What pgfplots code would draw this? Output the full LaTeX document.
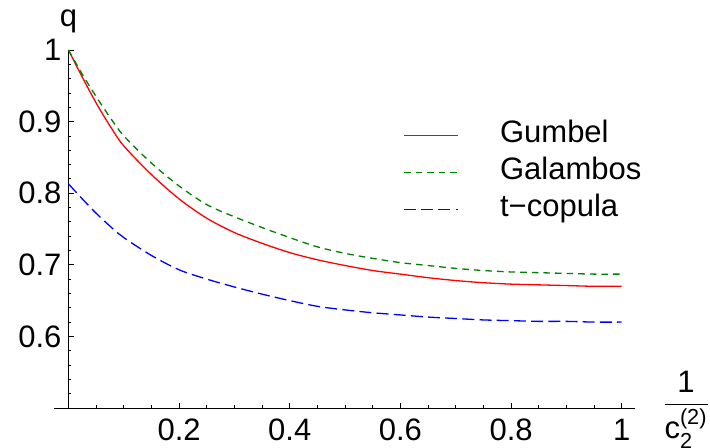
\documentclass[border=0pt]{standalone}
\usepackage{fontspec}
\setmainfont{Liberation Sans}
\usepackage{amsmath}
\usepackage{pgfplots}
\pgfplotsset{compat=1.18}
\definecolor{galgreen}{RGB}{0,128,0}

\begin{document}
\begin{tikzpicture}[font=\fontsize{15.5}{18}\selectfont]
\begin{axis}[
    scale only axis,
    width=276.6pt, height=179pt,
    xmin=0, xmax=1, ymin=0.5, ymax=1,
    axis lines=left,
    x axis line style={-, shorten <=-7.25pt, shorten >=-6.6pt},
    y axis line style={-},
    axis line style={line width=0.5pt},
    tick align=inside,
    major tick length=2.6pt, minor tick length=1.4pt,
    every tick/.style={black, line width=0.4pt},
    xtick={0.2,0.4,0.6,0.8,1},
    minor xtick={0.05,0.1,0.15,0.25,0.3,0.35,0.45,0.5,0.55,0.65,0.7,0.75,0.85,0.9,0.95},
    ytick={0.6,0.7,0.8,0.9,1},
    minor ytick={0.52,0.54,0.56,0.58,0.62,0.64,0.66,0.68,0.72,0.74,0.76,0.78,0.82,0.84,0.86,0.88,0.92,0.94,0.96,0.98},
    /pgf/number format/assume math mode=true,
    tick label style={font=\fontsize{15.5}{18}\selectfont},
    yticklabel style={xshift=0pt},
    xticklabel style={yshift=-2pt},
    every axis y label/.style={at={(axis description cs:0,1)}, anchor=base, yshift=11.5pt},
    every axis x label/.style={at={(axis description cs:1,0)}, anchor=west, inner sep=0pt, xshift=20pt, yshift=-1pt},
    ylabel={q},
    xlabel={$\dfrac{\text{1}}{\text{c}_{\text{2}}^{\text{(2)}}}$},
    clip=false,
    legend style={draw=none, fill=none, inner sep=0pt, row sep=1.5pt,
        at={(rel axis cs:0.6047,0.810)}, anchor=north west,
        nodes={inner sep=2pt, text height=10pt, text depth=3pt},
        font=\fontsize{15.5}{18}\selectfont},
    legend cell align=left,
    legend image code/.code={\draw[#1] (0pt,0pt) -- (27pt,0pt); \path[draw=none] (0pt,0pt) -- (46pt,0pt);},
]
\addplot[draw=red, line width=0.65pt, smooth] coordinates {
    (0,1.000) (0.025,0.962) (0.05,0.926) (0.075,0.894) (0.1,0.866)
    (0.15,0.826) (0.2,0.792) (0.25,0.765) (0.3,0.745) (0.35,0.730)
    (0.4,0.717) (0.45,0.707) (0.5,0.699) (0.55,0.692) (0.6,0.687)
    (0.65,0.682) (0.7,0.678) (0.75,0.675) (0.8,0.673) (0.85,0.672)
    (0.9,0.671) (0.95,0.670) (1,0.670)
};
\addlegendentry{Gumbel}
\addplot[draw=galgreen, line width=0.65pt, dash pattern=on 3.3pt off 2.5pt, smooth] coordinates {
    (0,1.000) (0.025,0.966) (0.05,0.935) (0.075,0.906) (0.1,0.880)
    (0.15,0.842) (0.2,0.810) (0.25,0.784) (0.3,0.767) (0.35,0.752)
    (0.4,0.738) (0.45,0.725) (0.5,0.716) (0.55,0.709) (0.6,0.703)
    (0.65,0.699) (0.7,0.695) (0.75,0.692) (0.8,0.690) (0.85,0.689)
    (0.9,0.688) (0.95,0.687) (1,0.687)
};
\addlegendentry{Galambos}
\addplot[draw=blue, line width=0.65pt, dash pattern=on 6pt off 2.6pt, smooth] coordinates {
    (0,0.813) (0.025,0.792) (0.05,0.772) (0.075,0.754) (0.1,0.738)
    (0.15,0.713) (0.2,0.693) (0.25,0.680) (0.3,0.669) (0.35,0.659)
    (0.4,0.650) (0.45,0.642) (0.5,0.637) (0.55,0.633) (0.6,0.630)
    (0.65,0.627) (0.7,0.625) (0.75,0.623) (0.8,0.622) (0.85,0.621)
    (0.9,0.621) (0.95,0.620) (1,0.620)
};
\addlegendentry{t\textminus copula}
\coordinate (bl) at (rel axis cs:-0.1238,-0.1117);
\coordinate (tr) at (rel axis cs:1.1596,1.1397);
\end{axis}
\pgfresetboundingbox
\path (bl) rectangle (tr);
\end{tikzpicture}
\end{document}
